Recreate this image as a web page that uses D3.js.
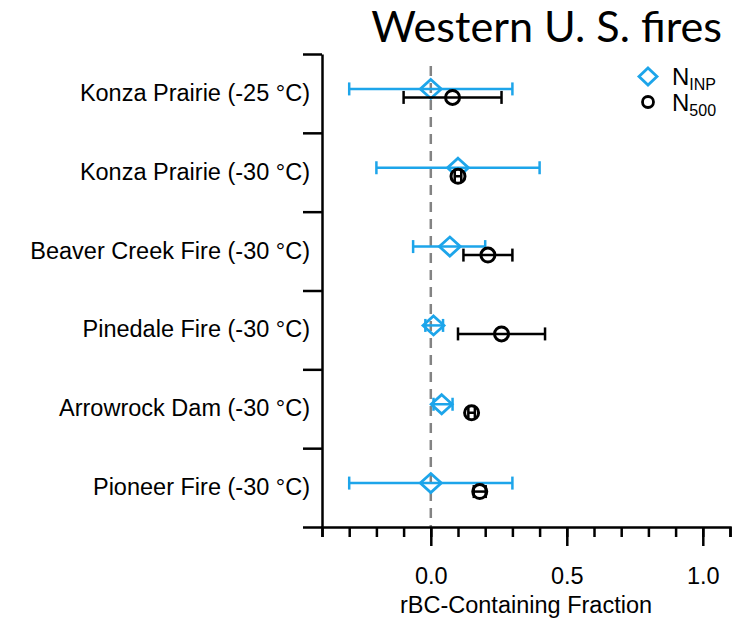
<!DOCTYPE html>
<html>
<head>
<meta charset="utf-8">
<script src="https://cdn.jsdelivr.net/npm/d3@7"></script>
<style>
  html, body { margin: 0; padding: 0; background: #fff; }
  svg { display: block; }
  text { font-family: "Liberation Sans", Arial, Helvetica, sans-serif; fill: #000; }
</style>
</head>
<body>
<svg id="chart" width="738" height="626"></svg>
<script>
// Sample sites / freezing temperatures
const categories = [
  "Konza Prairie (-25 °C)",
  "Konza Prairie (-30 °C)",
  "Beaver Creek Fire (-30 °C)",
  "Pinedale Fire (-30 °C)",
  "Arrowrock Dam (-30 °C)",
  "Pioneer Fire (-30 °C)"
];

// N_INP: rBC-containing fraction with lower / upper error limits
const inpValue = [0.00, 0.10, 0.07, 0.01, 0.04, 0.00];
const inpLow   = [-0.30, -0.20, -0.065, -0.02, 0.01, -0.30];
const inpHigh  = [0.30, 0.40, 0.20, 0.045, 0.08, 0.30];

// N_500: rBC-containing fraction with lower / upper error limits
const n500Value = [0.08, 0.10, 0.21, 0.26, 0.15, 0.18];
const n500Low   = [-0.10, 0.088, 0.12, 0.10, 0.138, 0.158];
const n500High  = [0.26, 0.112, 0.30, 0.42, 0.162, 0.202];

// Axis ticks
const minorTicks = d3.range(-4, 12).map(d => d / 10);
const majorTicks = [0.0, 0.5, 1.0];
const titleText = "Western U. S. fires";
const xLabel = "rBC-Containing Fraction";

const svg = d3.select("#chart");
const blue = "#1DA5EA";
const axisW = 2.5;
const fs = 23.5;

const x = d3.scaleLinear().domain([-0.4, 1.1]).range([322, 730]);
const y = d3.scaleBand().domain(categories).range([54, 527]);
const yEdge = d3.scaleLinear().domain([0, categories.length]).range([54, 527]);

// Zero reference line
svg.append("line")
  .attr("x1", x(0)).attr("x2", x(0))
  .attr("y1", 66).attr("y2", 527)
  .attr("stroke", "#838383").attr("stroke-width", 2.5)
  .attr("stroke-dasharray", "10,7");

// Y axis: category boundary ticks
const yEdgeAxis = svg.append("g")
  .attr("transform", `translate(${x(-0.4)},0)`)
  .call(d3.axisLeft(yEdge).tickValues(d3.range(0, categories.length + 1))
        .tickSize(19).tickSizeOuter(0).tickFormat(""));
yEdgeAxis.selectAll("path, line").attr("stroke", "#000").attr("stroke-width", axisW);

// Y axis: category labels
const yLabelAxis = svg.append("g")
  .attr("transform", `translate(${x(-0.4)},0)`)
  .call(d3.axisLeft(y).tickSize(0).tickPadding(12));
yLabelAxis.select(".domain").remove();
yLabelAxis.selectAll("text")
  .attr("font-size", fs)
  .style("font-family", '"Liberation Sans", Arial, sans-serif');

// X axis: minor ticks
const xMinor = svg.append("g")
  .attr("transform", "translate(0,527)")
  .call(d3.axisBottom(x).tickValues(minorTicks).tickSize(10).tickSizeOuter(10).tickFormat(""));
xMinor.selectAll("path, line").attr("stroke", "#000").attr("stroke-width", axisW);

// X axis: major ticks with labels
const xMajor = svg.append("g")
  .attr("transform", "translate(0,527)")
  .call(d3.axisBottom(x).tickValues(majorTicks).tickSize(19).tickPadding(21).tickFormat(d3.format(".1f")));
xMajor.select(".domain").remove();
xMajor.selectAll("line").attr("stroke", "#000").attr("stroke-width", axisW);
xMajor.selectAll("text")
  .attr("font-size", fs)
  .style("font-family", '"Liberation Sans", Arial, sans-serif');

// X axis title
svg.append("text")
  .attr("x", (x(-0.4) + x(1.1)) / 2).attr("y", 613)
  .attr("text-anchor", "middle")
  .attr("font-size", fs)
  .text(xLabel);

// Title
svg.append("text")
  .attr("x", 722).attr("y", 42)
  .attr("text-anchor", "end")
  .attr("font-size", 43.2)
  .style("font-family", 'Lato, "Open Sans", sans-serif')
  .text(titleText);

// Error bar helper
function errorBars(g, lo, hi, cy, color) {
  const cap = 6.5;
  g.append("line").attr("x1", x(lo)).attr("x2", x(hi)).attr("y1", cy).attr("y2", cy)
    .attr("stroke", color).attr("stroke-width", 2.5);
  [lo, hi].forEach(v => {
    g.append("line").attr("x1", x(v)).attr("x2", x(v)).attr("y1", cy - cap).attr("y2", cy + cap)
      .attr("stroke", color).attr("stroke-width", 2.5);
  });
}

const diamondPath = (cx, cy) => `M${cx},${cy - 9.5}L${cx + 10.5},${cy}L${cx},${cy + 9.5}L${cx - 10.5},${cy}Z`;

// N_INP series (blue diamonds)
const gInp = svg.append("g");
categories.forEach((c, i) => {
  const cy = y(c) + y.bandwidth() / 2 - 4.5;
  errorBars(gInp, inpLow[i], inpHigh[i], cy, blue);
  gInp.append("path").attr("d", diamondPath(x(inpValue[i]), cy))
    .attr("fill", "none").attr("stroke", blue).attr("stroke-width", 2.8)
    .attr("stroke-linejoin", "miter");
});

// N_500 series (black circles)
const g500 = svg.append("g");
categories.forEach((c, i) => {
  const cy = y(c) + y.bandwidth() / 2 + 4;
  g500.append("circle").attr("cx", x(n500Value[i])).attr("cy", cy).attr("r", 7)
    .attr("fill", "#fff").attr("stroke", "#000").attr("stroke-width", 3);
  errorBars(g500, n500Low[i], n500High[i], cy, "#000");
});

// Legend
const lg = svg.append("g");
lg.append("path").attr("d", `M648,68L657,76.5L648,85L639,76.5Z`)
  .attr("fill", "none").attr("stroke", blue).attr("stroke-width", 2.8);
lg.append("circle").attr("cx", 648).attr("cy", 102).attr("r", 5.5)
  .attr("fill", "none").attr("stroke", "#000").attr("stroke-width", 2.8);

const legendItems = [["N", "INP", 85], ["N", "500", 111]];
legendItems.forEach(([main, sub, by]) => {
  const t = lg.append("text").attr("x", 672).attr("y", by).attr("font-size", 24);
  t.append("tspan").text(main);
  t.append("tspan").attr("font-size", 16).attr("dy", 5).text(sub);
});
</script>
</body>
</html>
